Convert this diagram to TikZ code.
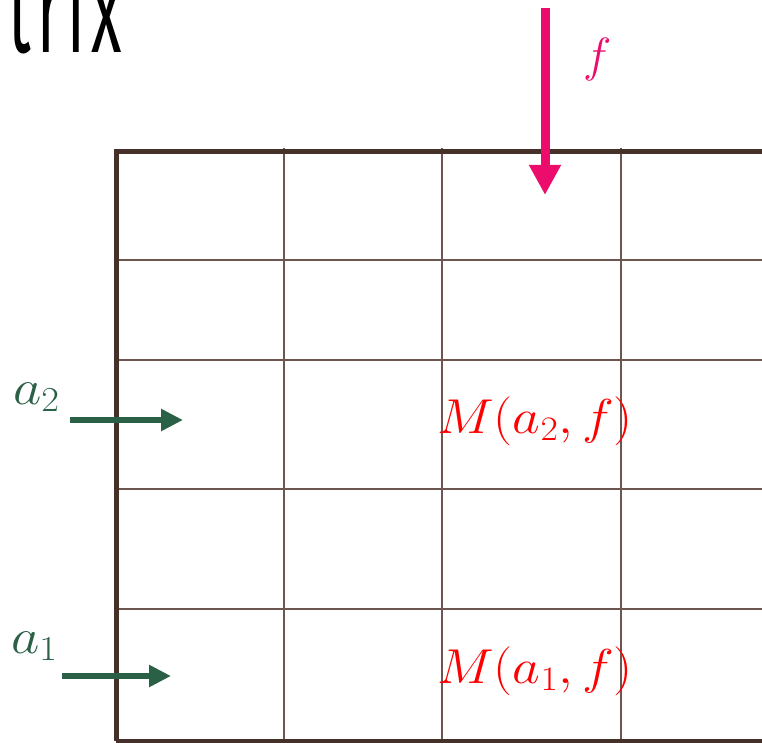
\RequirePackage{fix-cm}
\documentclass[tikz,border=0pt]{standalone}
\usepackage{fontspec}
\usetikzlibrary{arrows.meta}
\newfontfamily\titlefont{Fira Sans}[LetterSpace=10]
\definecolor{gridthick}{HTML}{45302A}
\definecolor{gridthin}{HTML}{6E5650}
\definecolor{pinkarrow}{HTML}{EC0C6C}
\definecolor{greenarrow}{HTML}{2A6045}
\definecolor{cellred}{HTML}{FF0000}
\tikzset{
  thinline/.style={draw=gridthin, line width=1.8pt},
  thickline/.style={draw=gridthick, line width=5pt},
  pinkarr/.style={draw=pinkarrow, line width=9pt, -{Triangle[width=30pt,length=30pt]}},
  greenarr/.style={draw=greenarrow, line width=6pt, -{Triangle[width=21pt,length=22pt]}},
  celltext/.style={text=cellred, font=\fontsize{49}{58}\selectfont, inner sep=0pt, anchor=base west},
  greenlabel/.style={text=greenarrow, font=\fontsize{50}{58}\selectfont, inner sep=0pt, anchor=base west},
  pinklabel/.style={text=pinkarrow, font=\fontsize{48}{56}\selectfont, inner sep=0pt, anchor=base west},
}
\begin{document}
\begin{tikzpicture}[x=1pt,y=-1pt]
\useasboundingbox (0,0) rectangle (762,743);
\clip (0,0) rectangle (762,743);
% title fragment
\node[anchor=base east, inner sep=0pt, font=\titlefont\fontsize{125}{130}\selectfont] (title) at (122,53) {\scalebox{0.5}[1]{Matrix}};
% thin grid lines
\foreach \x in {284,442,621} \draw[thinline] (\x,148) -- (\x,743);
\foreach \y in {260,360,489,609} \draw[thinline] (116,\y) -- (762,\y);
% thick border
\draw[thickline] (116,741) -- (116,152) -- (764,152);
\draw[draw=gridthick, line width=4pt] (116,741) -- (764,741);
% arrows
\coordinate (fstart) at (545,8);
\coordinate (fend) at (545,195);
\draw[pinkarr] (fstart) -- (fend);
\node[pinklabel] (flabel) at (583,72) {$f$};
\coordinate (atwostart) at (70,420);
\coordinate (atwoend) at (183,420);
\draw[greenarr] (atwostart) -- (atwoend);
\node[greenlabel] (atwolabel) at (13,404) {\scalebox{1.1}[1]{$a_2$}};
\coordinate (aonestart) at (62,676);
\coordinate (aoneend) at (171,676);
\draw[greenarr] (aonestart) -- (aoneend);
\node[greenlabel] (aonelabel) at (11,653) {\scalebox{1.1}[1]{$a_1$}};
% cell texts
\node[celltext] (mtwo) at (437,433) {\scalebox{1.1}[1]{$M(a_2,f)$}};
\node[celltext] (mone) at (437,683) {\scalebox{1.1}[1]{$M(a_1,f)$}};
\end{tikzpicture}
\end{document}
